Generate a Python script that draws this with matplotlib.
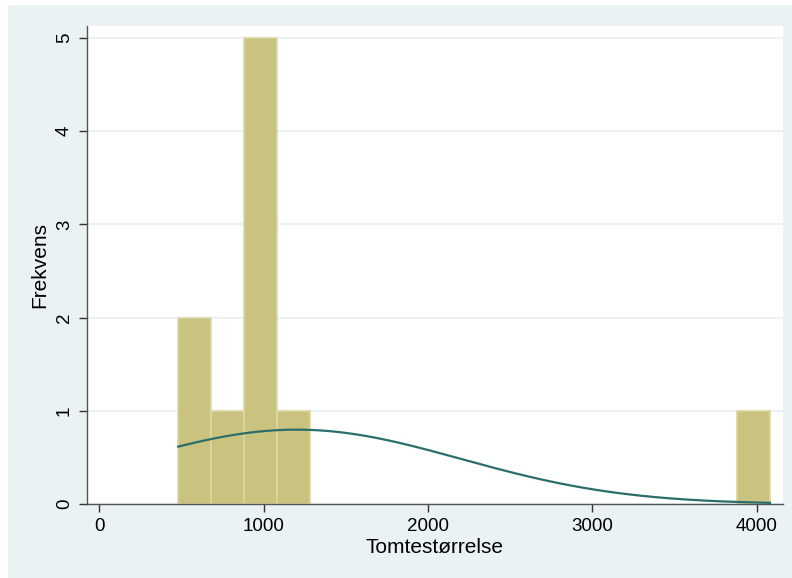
import numpy as np
import matplotlib
matplotlib.use("Agg")
import matplotlib.pyplot as plt
from matplotlib.patches import Rectangle

# Histogram bins (width 200) and counts
bin_left = [480, 680, 880, 1080, 3880]
bin_width = 200
counts = [2, 1, 5, 1, 1]

# Normal curve parameters (mean, sd of the data, n obs)
mean_val = 1200
sd_val = 1000
n_obs = 10
curve_range = (480, 4080)

xticks = [0, 1000, 2000, 3000, 4000]
yticks = [0, 1, 2, 3, 4, 5]

BG = "#eaf2f3"
BAR = "#cac37f"
BAR_EDGE = "#dcd7a2"
LINE = "#2a6e6c"

plt.rcParams['font.family'] = ['Liberation Sans', 'DejaVu Sans']

fig = plt.figure(figsize=(7.92, 5.78), dpi=100, facecolor="white")
fig.patches.append(Rectangle((8 / 792, 0), 1 - 8 / 792, 1 - 5 / 578,
                             transform=fig.transFigure, facecolor=BG,
                             edgecolor="none", zorder=-10))

ax = fig.add_axes([87 / 792, 1 - 504 / 578, (783 - 87) / 792, (504 - 26) / 578])
ax.set_facecolor("white")

ax.bar(bin_left, counts, width=bin_width, align="edge", color=BAR,
       edgecolor=BAR_EDGE, linewidth=1.2, zorder=2)

xs = np.linspace(curve_range[0], curve_range[1], 400)
dens = np.exp(-0.5 * ((xs - mean_val) / sd_val) ** 2) / (sd_val * np.sqrt(2 * np.pi))
ax.plot(xs, dens * n_obs * bin_width, color=LINE, linewidth=1.6, zorder=3)

ax.set_xlim(-75, 4159)
ax.set_ylim(0, 5.13)
ax.set_xticks(xticks)
ax.set_yticks(yticks)
ax.set_yticklabels([str(v) for v in yticks], rotation=90, va="center")
ax.yaxis.grid(True, color=BG, linewidth=1.5, zorder=0)
ax.set_axisbelow(True)

for s in ["top", "right"]:
    ax.spines[s].set_visible(False)
for s in ["left", "bottom"]:
    ax.spines[s].set_color("#555555")
    ax.spines[s].set_linewidth(1.0)
ax.tick_params(axis="both", direction="out", length=6, width=1.0,
               color="#333333", labelsize=13.5, pad=4)

ax.set_xlabel("Tomtestørrelse", fontsize=15, labelpad=2)
ax.set_ylabel("Frekvens", fontsize=15, labelpad=5)

fig.savefig("out.png", dpi=100, facecolor=fig.get_facecolor())
